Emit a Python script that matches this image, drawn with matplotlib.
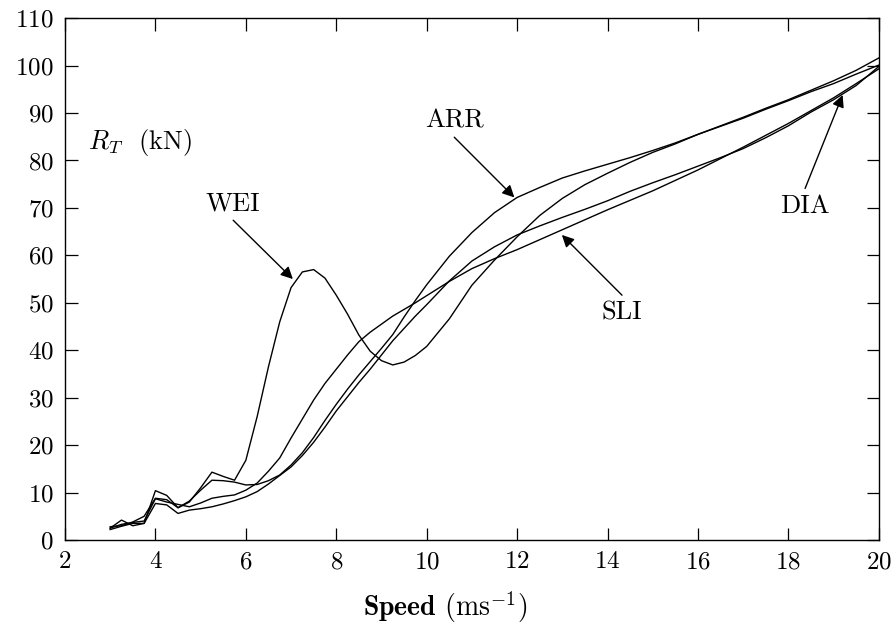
import matplotlib
matplotlib.use("Agg")
from matplotlib import pyplot as plt

plt.rcParams['font.family'] = 'cmr10'
plt.rcParams['mathtext.fontset'] = 'cm'
plt.rcParams['axes.formatter.use_mathtext'] = True

speed = [3.0, 3.25, 3.5, 3.75, 4.0, 4.25, 4.5, 4.75, 5.0, 5.25, 5.5, 5.75,
         6.0, 6.25, 6.5, 6.75, 7.0, 7.25, 7.5, 7.75, 8.0, 8.25, 8.5, 8.75,
         9.0, 9.25, 9.5, 9.75, 10.0, 10.5, 11.0, 11.5, 12.0, 12.5, 13.0, 13.5,
         14.0, 14.5, 15.0, 15.5, 16.0, 16.5, 17.0, 17.5, 18.0, 18.5, 19.0,
         19.5, 20.0]

wei = [2.5, 4.2, 3.0, 3.5, 10.4, 9.4, 6.8, 8.0, 11.0, 14.3, 13.4, 12.6,
       16.8, 26.0, 36.5, 46.0, 53.2, 56.5, 57.0, 55.2, 51.6, 47.6, 43.2, 39.8,
       37.8, 36.9, 37.5, 38.9, 40.8, 46.6, 53.7, 59.0, 63.9, 68.4, 72.0, 74.9,
       77.3, 79.6, 81.7, 83.5, 85.5, 87.2, 88.9, 90.8, 92.6, 94.5, 96.2,
       98.2, 100.1]

arr = [2.8, 3.0, 3.8, 5.0, 8.8, 8.5, 6.8, 8.2, 10.5, 12.6, 12.5, 12.2,
       11.6, 11.7, 12.5, 13.7, 15.8, 18.4, 21.6, 25.2, 28.6, 31.8, 34.8, 37.6,
       40.4, 43.3, 47.0, 50.5, 53.8, 59.8, 64.8, 69.0, 72.2, 74.3, 76.3, 77.8,
       79.2, 80.6, 82.1, 83.7, 85.5, 87.3, 89.1, 91.0, 92.8, 94.8, 96.8,
       99.0, 101.6]

sli = [2.5, 3.3, 3.7, 4.0, 8.7, 8.0, 7.5, 7.0, 7.8, 8.8, 9.2, 9.5,
       10.5, 12.0, 14.5, 17.3, 21.5, 25.5, 29.5, 33.0, 36.0, 39.0, 41.8, 43.8,
       45.5, 47.2, 48.6, 50.0, 51.5, 54.5, 57.2, 59.3, 61.2, 63.3, 65.4, 67.5,
       69.6, 71.6, 73.6, 75.8, 78.0, 80.4, 82.8, 85.3, 87.8, 90.5, 93.2,
       96.2, 99.3]

dia = [2.2, 2.9, 3.5, 3.5, 7.7, 7.4, 5.6, 6.3, 6.6, 7.0, 7.6, 8.3,
       9.1, 10.2, 11.8, 13.6, 15.4, 17.8, 20.6, 23.8, 27.2, 30.2, 33.2, 36.0,
       39.0, 42.0, 44.6, 47.2, 49.6, 54.6, 58.8, 61.8, 64.3, 66.2, 68.0, 69.7,
       71.5, 73.5, 75.3, 77.0, 78.8, 80.6, 82.5, 84.8, 87.3, 90.2, 92.8,
       95.8, 99.8]

fig = plt.figure(figsize=(8.94, 6.25), dpi=100)
ax = fig.add_axes([0.0727, 0.136, 0.9103, 0.835])

for ys in (wei, arr, sli, dia):
    ax.plot(speed, ys, color='black', lw=1.0)

ax.set_xlim(2, 20)
ax.set_ylim(0, 110)
ax.set_xticks(range(2, 21, 2))
ax.set_yticks(range(0, 111, 10))
ax.tick_params(direction='in', length=9, width=0.9, top=True, right=True,
               labelsize=18, pad=8)
for sp in ax.spines.values():
    sp.set_linewidth(1.0)

ax.set_xlabel(r'$\mathbf{Speed}$ (ms$^{-1}$)', fontsize=20)
ax.xaxis.set_label_coords(0.467, -0.095)
ax.text(2.5, 83.7, r'$R_T$  (kN)', fontsize=19, va='center', ha='left')

arrow = dict(arrowstyle='-|>', color='black', lw=1.0, mutation_scale=18,
             shrinkA=0, shrinkB=0)
notes = [('WEI', (7.04, 55.0), (5.72, 70.8), (5.72, 67.4)),
         ('ARR', (11.94, 72.2), (10.61, 88.3), (10.61, 84.9)),
         ('SLI', (12.99, 64.3), (14.32, 48.0), (14.32, 51.6)),
         ('DIA', (19.2, 93.8), (18.37, 70.4), (18.37, 74.1))]
for name, tip, txt, start in notes:
    ax.annotate('', xy=tip, xytext=start, arrowprops=arrow)
    ax.text(txt[0], txt[1], name, fontsize=19, ha='center', va='center')

fig.savefig('out.png', dpi=100)
